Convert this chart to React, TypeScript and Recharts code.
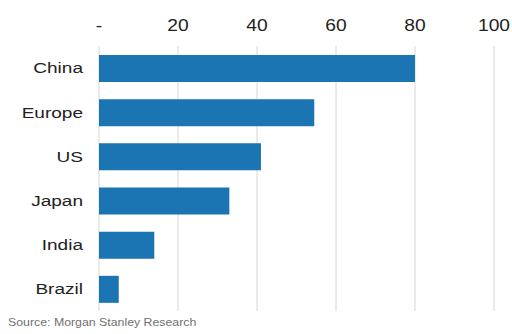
import { BarChart, Bar, XAxis, YAxis, CartesianGrid } from "recharts";

const regions = ["China", "Europe", "US", "Japan", "India", "Brazil"];
const values = [80, 54.5, 41, 33, 14, 5];
const xTicks = [0, 20, 40, 60, 80, 100];
const source = "Source: Morgan Stanley Research";

const data = regions.map((region, i) => ({ region, value: values[i] }));

const font = "'Liberation Sans', Arial, sans-serif";

// the original's text is a wide, slightly stretched Arial
function XTick({ x, y, payload }: any) {
  const label = payload.value === 0 ? "-" : String(payload.value);
  return (
    <g transform={`translate(${x},${y}) scale(1.2,1)`}>
      <text textAnchor="middle" fill="#222" fontSize={16} fontFamily={font}>
        {label}
      </text>
    </g>
  );
}

function YTick({ x, y, payload }: any) {
  return (
    <g transform={`translate(${x},${y}) scale(1.27,1)`}>
      <text textAnchor="end" dy="0.36em" fill="#222" fontSize={15} fontFamily={font}>
        {payload.value}
      </text>
    </g>
  );
}

export default function App() {
  return (
    <div
      style={{
        position: "absolute",
        left: 0,
        top: 0,
        width: 512,
        height: 334,
        background: "#fff",
        fontFamily: font,
      }}
    >
      <BarChart
        width={512}
        height={320}
        data={data}
        layout="vertical"
        margin={{ top: 15, right: 18, bottom: 9, left: 9 }}
      >
        <CartesianGrid horizontal={false} stroke="#d6d6d6" />
        <XAxis
          type="number"
          orientation="top"
          domain={[0, 100]}
          ticks={xTicks}
          height={31}
          axisLine={false}
          tickLine={false}
          tickSize={0}
          tickMargin={15}
          interval={0}
          tick={<XTick />}
        />
        <YAxis
          type="category"
          dataKey="region"
          width={90}
          axisLine={false}
          tickLine={false}
          tickSize={0}
          tickMargin={16}
          tick={<YTick />}
        />
        <Bar dataKey="value" fill="#1b75b2" barSize={27} isAnimationActive={false} />
      </BarChart>
      <div
        style={{
          position: "absolute",
          left: 8,
          top: 316,
          fontSize: 11,
          color: "#707070",
          whiteSpace: "nowrap",
          transform: "scaleX(1.12)",
          transformOrigin: "left center",
        }}
      >
        {source}
      </div>
    </div>
  );
}
